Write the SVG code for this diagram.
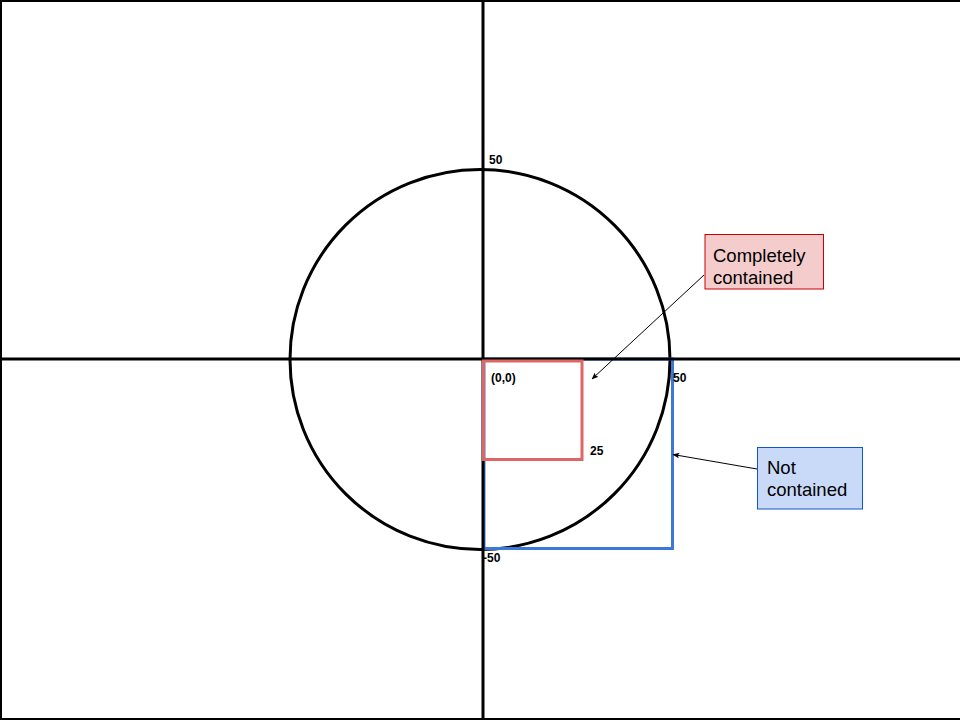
<svg xmlns="http://www.w3.org/2000/svg" width="960" height="720" viewBox="0 0 960 720">
<style>
.axis{stroke:#000;stroke-width:3;fill:none}
.lbl{font-family:"Liberation Sans",Arial,sans-serif;font-size:12px;font-weight:bold;fill:#000}
.note{font-family:"Liberation Sans",Arial,sans-serif;font-size:18.5px;fill:#000}
.conn{stroke:#000;stroke-width:1;fill:none;marker-end:url(#ah)}
</style>
<defs>
<marker id="ah" viewBox="0 0 10 10" refX="9" refY="5" markerWidth="7" markerHeight="7" markerUnits="userSpaceOnUse" orient="auto">
<path d="M0,1 L10,5 L0,9 L2,5 Z" fill="#000"/>
</marker>
</defs>
<rect width="960" height="720" fill="#fff"/>
<g id="frame" stroke="#000" stroke-width="2" fill="none">
<line x1="0" y1="1" x2="960" y2="1"/>
<line x1="1" y1="0" x2="1" y2="720"/>
<line x1="0" y1="719" x2="960" y2="719"/>
</g>
<g id="circle"><circle cx="480" cy="359.5" r="190" class="axis"/></g>
<g id="blue-rect"><rect x="484" y="359" width="188.5" height="189.5" fill="none" stroke="#3c78d8" stroke-width="3"/></g>
<g id="axes">
<line class="axis" x1="0" y1="359" x2="960" y2="359"/>
<line class="axis" x1="483" y1="0" x2="483" y2="720"/>
</g>
<g id="red-rect"><rect x="483.5" y="361" width="98.5" height="98.5" fill="none" stroke="#e06666" stroke-width="3"/></g>
<g id="labels">
<text class="lbl" x="489" y="164">50</text>
<text class="lbl" x="491" y="382">(0,0)</text>
<text class="lbl" x="673" y="382">50</text>
<text class="lbl" x="590" y="455">25</text>
<text class="lbl" x="483" y="562">-50</text>
</g>
<g id="node-completely">
<rect x="705" y="234.5" width="118.5" height="54.5" fill="#f4cccc" stroke="#cc0000" stroke-width="1"/>
<text class="note" x="713" y="262">Completely</text>
<text class="note" x="713" y="283.5">contained</text>
</g>
<g id="node-not">
<rect x="757.5" y="447.5" width="105" height="61.5" fill="#c9daf8" stroke="#1155cc" stroke-width="1"/>
<text class="note" x="767" y="474">Not</text>
<text class="note" x="767" y="496">contained</text>
</g>
<g id="connectors">
<line class="conn" x1="704" y1="275" x2="592" y2="379"/>
<line class="conn" x1="757" y1="469" x2="673" y2="454.5"/>
</g>
</svg>
